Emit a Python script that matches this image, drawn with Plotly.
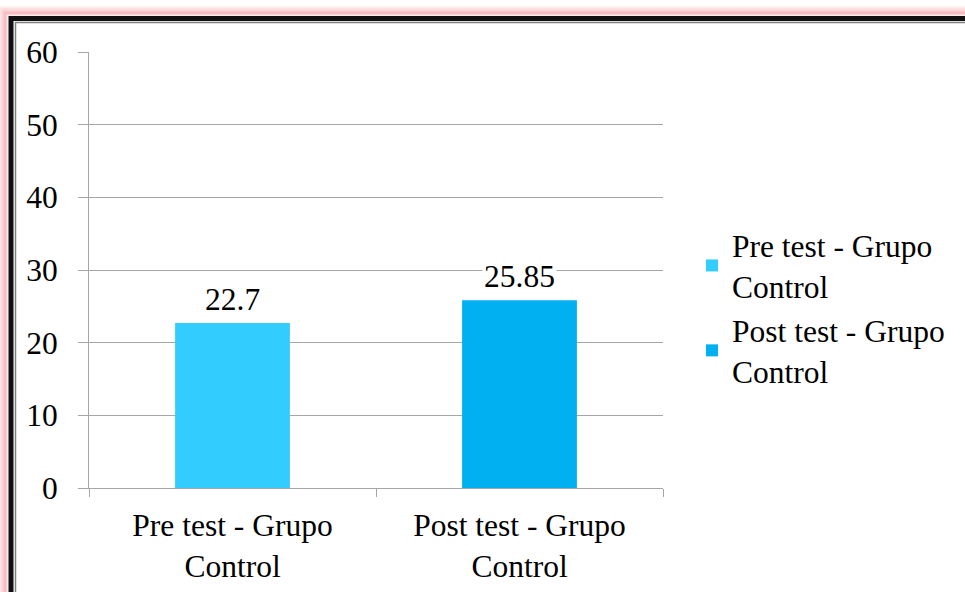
import plotly.graph_objects as go

categories = ["Pre test - Grupo<br>Control", "Post test - Grupo<br>Control"]
series_names = ["Pre test - Grupo<br>Control", "Post test - Grupo<br>Control"]
values = [22.7, 25.85]
value_labels = ["22.7", "25.85"]
colors = ["#33CCFF", "#00B0F0"]
y_ticks = [0, 10, 20, 30, 40, 50, 60]

W, H = 965, 592
L, R, T, B = 89, 302, 52, 104
FONT = "Liberation Serif"
FS = 31.5

fig = go.Figure()
for i in range(len(categories)):
    fig.add_trace(go.Bar(
        x=[categories[i]], y=[values[i]], name=series_names[i],
        marker=dict(color=colors[i], line=dict(width=0)),
        width=0.4, legendgroup=str(i),
    ))
    fig.add_annotation(
        x=categories[i], y=values[i], text=value_labels[i], showarrow=False,
        yanchor="bottom", yshift=4, bgcolor="white",
        font=dict(family=FONT, size=FS, color="black"),
    )

pw, ph = W - L - R, H - T - B
def px(xp):
    return (xp - L) / pw
def py(yp):
    return (H - B - yp) / ph

shapes = []
# red glow around the frame
for k, a in enumerate([0.05, 0.08, 0.11, 0.15, 0.2, 0.26]):
    off = 9 - k * 1.4
    shapes.append(dict(type="rect", xref="paper", yref="paper",
                       x0=px(8 - off), x1=px(W + 30), y0=py(16 - off), y1=py(H + 30),
                       line=dict(color=f"rgba(240,90,100,{a})", width=3),
                       fillcolor="rgba(0,0,0,0)", layer="below"))
# black thick frame
shapes.append(dict(type="rect", xref="paper", yref="paper",
                   x0=px(11), x1=px(W + 30), y0=py(18.5), y1=py(H + 30),
                   line=dict(color="#111111", width=5), layer="above"))
# inner thin gray line
shapes.append(dict(type="rect", xref="paper", yref="paper",
                   x0=px(15.5), x1=px(W + 30), y0=py(22.5), y1=py(H + 30),
                   line=dict(color="#808080", width=1.5), layer="above"))

fig.update_layout(
    width=W, height=H,
    margin=dict(l=L, r=R, t=T, b=B, autoexpand=False),
    paper_bgcolor="white", plot_bgcolor="white",
    barmode="overlay",
    font=dict(family=FONT, size=FS, color="black"),
    showlegend=True,
    legend=dict(x=px(692), y=py(218), xanchor="left", yanchor="top",
                font=dict(family=FONT, size=FS, color="black"),
                tracegroupgap=0, itemwidth=30, bgcolor="rgba(0,0,0,0)"),
    shapes=shapes,
)
fig.update_yaxes(range=[0, 60], tickvals=y_ticks, showgrid=True, gridcolor="#A6A6A6",
                 gridwidth=1, showline=True, linecolor="#A6A6A6", linewidth=1,
                 ticks="outside", ticklen=10, tickcolor="#A6A6A6", ticklabelstandoff=14,
                 zeroline=False, tickfont=dict(family=FONT, size=FS, color="black"))
fig.update_xaxes(showline=True, linecolor="#A6A6A6", linewidth=1, ticks="outside",
                 tickson="boundaries", ticklen=8, tickcolor="#A6A6A6",
                 tickfont=dict(family=FONT, size=FS, color="black"), ticklabelstandoff=9)

fig.write_html("out.html", config={"displayModeBar": False},
               post_script="document.body.style.margin='0';")
